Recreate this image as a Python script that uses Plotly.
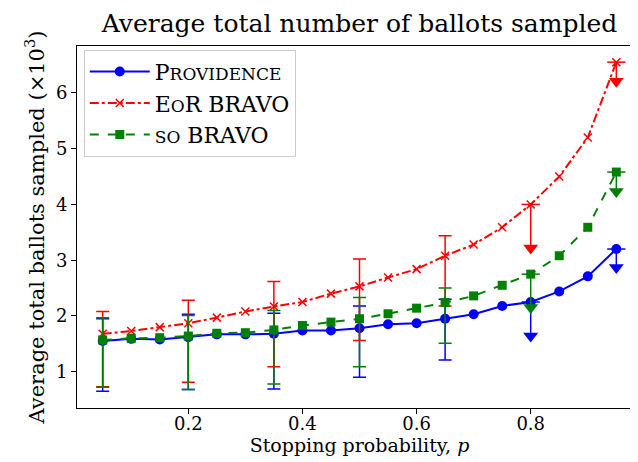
import plotly.graph_objects as go

# Stopping probabilities
p = [0.05, 0.10, 0.15, 0.20, 0.25, 0.30, 0.35, 0.40, 0.45, 0.50,
     0.55, 0.60, 0.65, 0.70, 0.75, 0.80, 0.85, 0.90, 0.95]

# Average total ballots sampled (x10^3)
providence = [1.55, 1.59, 1.58, 1.62, 1.67, 1.67, 1.68, 1.74, 1.74, 1.78,
              1.85, 1.87, 1.95, 2.03, 2.18, 2.25, 2.44, 2.71, 3.20]
eor_bravo = [1.68, 1.73, 1.80, 1.87, 1.97, 2.08, 2.17, 2.25, 2.40, 2.53,
             2.69, 2.84, 3.08, 3.28, 3.59, 4.00, 4.50, 5.20, 6.55]
so_bravo = [1.57, 1.60, 1.61, 1.64, 1.69, 1.70, 1.75, 1.83, 1.89, 1.95,
            2.04, 2.14, 2.24, 2.36, 2.55, 2.75, 3.08, 3.59, 4.58]

# Error bar positions and bounds
p_err = [0.05, 0.20, 0.35, 0.50, 0.65]
prov_hi = [1.95, 2.03, 2.05, 2.18, 2.30]
prov_lo = [0.65, 0.68, 0.69, 0.90, 1.21]
eor_hi = [2.08, 2.28, 2.62, 3.02, 3.44]
eor_lo = [0.73, 0.81, 1.09, 1.56, 2.18]
so_hi = [1.97, 2.01, 2.10, 2.33, 2.50]
so_lo = [0.72, 0.68, 0.78, 1.09, 1.51]

# Limit (arrow) positions and lower values
p_lim = [0.80, 0.95]
prov_lim = [1.64, 2.87]
eor_lim = [3.22, 6.21]
so_lim = [2.15, 4.23]

SC = 17  # small-caps letter size
series = [
    (f"P<span style='font-size:{SC}px'>ROVIDENCE</span>", providence, prov_hi, prov_lo, prov_lim,
     "#0000ff", "solid", "circle", 10),
    (f"E<span style='font-size:{SC}px'>O</span>R BRAVO", eor_bravo, eor_hi, eor_lo, eor_lim,
     "#ff0000", "dashdot", "x-thin", 8),
    (f"<span style='font-size:{SC}px'>SO</span> BRAVO", so_bravo, so_hi, so_lo, so_lim,
     "#008000", "dash", "square", 9),
]

fig = go.Figure()
for name, vals, hi, lo, lim, col, dash, sym, msz in series:
    lookup = dict(zip(p, vals))
    ye = [lookup[x] for x in p_err]
    fig.add_trace(go.Scatter(
        x=p_err, y=ye, mode="markers", showlegend=False,
        marker=dict(size=1, opacity=0),
        error_y=dict(type="data", symmetric=False,
                     array=[h - v for h, v in zip(hi, ye)],
                     arrayminus=[v - l for l, v in zip(lo, ye)],
                     color=col, thickness=1.5, width=6.5)))
    yl = [lookup[x] for x in p_lim]
    fig.add_trace(go.Scatter(
        x=p_lim, y=yl, mode="markers", showlegend=False,
        marker=dict(symbol="line-ew", size=13, line=dict(color=col, width=1.5)),
        error_y=dict(type="data", symmetric=False, array=[0, 0],
                     arrayminus=[v - l for l, v in zip(lim, yl)],
                     color=col, thickness=1.5, width=0)))
    fig.add_trace(go.Scatter(
        x=p_lim, y=lim, mode="markers", showlegend=False,
        marker=dict(symbol="triangle-down", size=13, color=col, line=dict(width=0))))
    if sym == "x-thin":
        mk = dict(symbol=sym, size=msz, color=col, line=dict(color=col, width=1.5))
    else:
        mk = dict(symbol=sym, size=msz, color=col, line=dict(width=0))
    fig.add_trace(go.Scatter(
        x=p, y=vals, mode="lines+markers", name=name,
        line=dict(color=col, width=2, dash=dash), marker=mk))

font_family = "DejaVu Serif, serif"
fig.update_layout(
    width=638, height=462,
    margin=dict(l=69, r=4, t=38, b=62),
    paper_bgcolor="white", plot_bgcolor="white",
    font=dict(family=font_family, size=18, color="black"),
    title=dict(text="Average total number of ballots sampled", x=0.5, xref="paper",
               xanchor="center", y=0.968, yanchor="middle",
               font=dict(size=25, family=font_family)),
    legend=dict(x=0.012, y=0.99, xanchor="left", yanchor="top",
                bgcolor="rgba(255,255,255,0.8)", bordercolor="#cccccc", borderwidth=1,
                font=dict(size=22, family=font_family), itemwidth=60,
                tracegroupgap=0),
    showlegend=True,
)
fig.update_xaxes(range=[0.005, 0.995], tickvals=[0.2, 0.4, 0.6, 0.8],
                 ticktext=["0.2", "0.4", "0.6", "0.8"],
                 showline=True, linecolor="black", linewidth=1, mirror=True,
                 ticks="outside", ticklen=5, tickcolor="black", showgrid=False, zeroline=False,
                 ticklabelstandoff=-6,
                 title=dict(text="Stopping probability, <i>p</i>", standoff=0,
                            font=dict(size=19)))
fig.update_yaxes(range=[0.35, 6.84], tickvals=[1, 2, 3, 4, 5, 6],
                 showline=True, linecolor="black", linewidth=1, mirror=True,
                 ticks="outside", ticklen=5, tickcolor="black", showgrid=False, zeroline=False,
                 title=dict(text="Average total ballots sampled (×10<sup>3</sup>)", standoff=5,
                            font=dict(size=21)))

fig.write_html("out.html")
